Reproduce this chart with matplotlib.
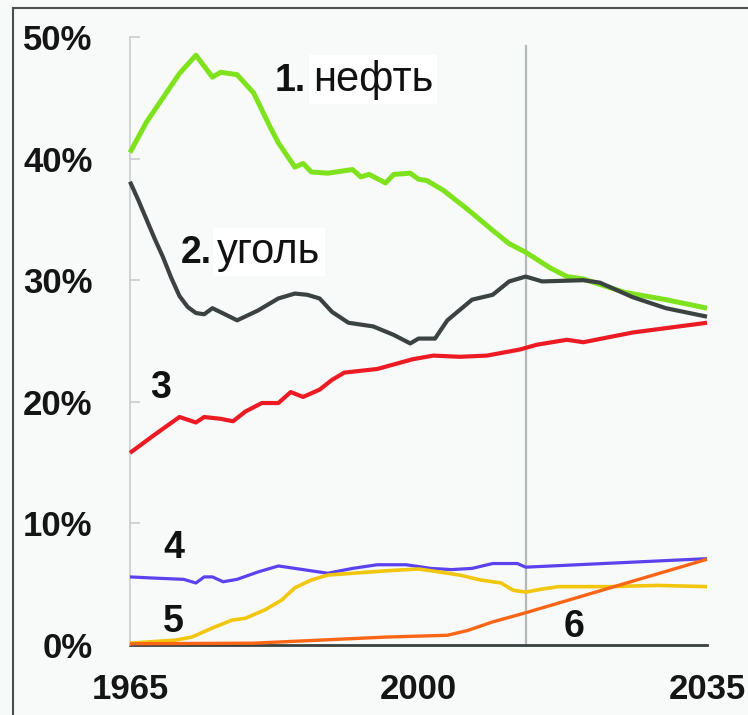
import matplotlib
matplotlib.use("Agg")
import matplotlib.pyplot as plt
from matplotlib.lines import Line2D

# ---- data (share of world primary energy, %) ----
oil_years = [1965, 1967, 1969, 1970, 1971, 1973, 1975, 1976, 1978, 1980, 1982, 1983, 1985, 1986,
             1987, 1989, 1990, 1992, 1993, 1994, 1996, 1997, 1999, 2000, 2001, 2003, 2006, 2009,
             2011, 2013, 2016, 2018, 2020, 2025, 2030, 2035]
oil_vals = [40.5, 43.0, 45.0, 46.0, 47.0, 48.5, 46.7, 47.1, 46.9, 45.4, 42.6, 41.3, 39.3, 39.6,
            38.9, 38.8, 38.9, 39.1, 38.5, 38.7, 38.0, 38.7, 38.8, 38.3, 38.2, 37.4, 35.8, 34.1,
            33.0, 32.3, 31.0, 30.3, 30.1, 29.0, 28.4, 27.7]

coal_years = [1965, 1966, 1967, 1968, 1969, 1970, 1971, 1972, 1973, 1974, 1975, 1976.5, 1978,
              1980.5, 1983, 1985, 1986.5, 1988, 1989.5, 1991.5, 1994.5, 1997, 1999, 2000, 2002,
              2003.5, 2006.5, 2009, 2011, 2013, 2015, 2020, 2022, 2026, 2030, 2035]
coal_vals = [38.1, 36.6, 35.0, 33.4, 31.9, 30.2, 28.7, 27.8, 27.3, 27.2, 27.7, 27.2, 26.7,
             27.5, 28.5, 28.9, 28.8, 28.5, 27.4, 26.5, 26.2, 25.5, 24.8, 25.2, 25.2,
             26.7, 28.4, 28.8, 29.9, 30.3, 29.9, 30.0, 29.8, 28.6, 27.7, 27.0]

gas_years = [1965, 1968, 1971, 1973, 1974, 1976, 1977.5, 1979, 1981, 1983, 1984.5, 1986, 1988,
             1989.5, 1991, 1995, 1999.3, 2001.8, 2005, 2008.3, 2012.3, 2014.4, 2018, 2020, 2026, 2035]
gas_vals = [15.8, 17.3, 18.75, 18.3, 18.75, 18.6, 18.4, 19.2, 19.9, 19.9, 20.8, 20.4, 21.0,
            21.8, 22.4, 22.7, 23.5, 23.8, 23.7, 23.8, 24.3, 24.7, 25.1, 24.9, 25.7, 26.5]

hydro_years = [1965, 1968, 1971.5, 1973, 1974, 1975, 1976.3, 1978, 1980.5, 1983, 1986, 1989, 1992,
               1995, 1998.5, 2001.5, 2004, 2006.5, 2009, 2012, 2013, 2035]
hydro_vals = [5.6, 5.5, 5.4, 5.1, 5.6, 5.6, 5.2, 5.4, 6.0, 6.5, 6.2, 5.9, 6.3,
              6.6, 6.6, 6.3, 6.2, 6.3, 6.7, 6.7, 6.4, 7.1]

nuclear_years = [1965, 1970.5, 1972.5, 1975, 1977.4, 1979, 1981.4, 1983.4, 1985, 1987, 1989, 1992,
                 1996, 2000, 2002.6, 2005, 2007.5, 2010, 2011.5, 2013, 2015, 2017, 2023, 2029, 2035]
nuclear_vals = [0.15, 0.4, 0.65, 1.4, 2.05, 2.2, 2.9, 3.7, 4.7, 5.35, 5.75, 5.9,
                6.1, 6.25, 6.0, 5.75, 5.35, 5.1, 4.5, 4.35, 4.6, 4.8, 4.8, 4.9, 4.8]

renew_years = [1965, 1980, 1988, 1996, 2003.5, 2006, 2009, 2013, 2035]
renew_vals = [0.1, 0.15, 0.4, 0.65, 0.8, 1.2, 1.9, 2.65, 7.05]

x_ticks = [1965, 2000, 2035]
x_tick_labels = ["1965", "2000", "2035"]
y_ticks = [0, 10, 20, 30, 40, 50]
y_tick_labels = ["0%", "10%", "20%", "30%", "40%", "50%"]
forecast_year = 2013

# ---- figure ----
bg = "#f8f9f9"
fig = plt.figure(figsize=(7.48, 7.15), dpi=100, facecolor=bg)
ax = fig.add_axes([130/748, 1 - 645/715, 577/748, 608/715])
ax.set_facecolor(bg)
ax.set_xlim(1965, 2035)
ax.set_ylim(0, 50)

font = "Liberation Sans"

ax.axvline(forecast_year, ymin=0, ymax=49.3/50, color="#b3b8b8", lw=1.6, zorder=1)

lines = [
    (oil_years, oil_vals, "#7ee31c", 3.6),
    (coal_years, coal_vals, "#3c4242", 3.0),
    (gas_years, gas_vals, "#ec1a22", 3.0),
    (hydro_years, hydro_vals, "#5a42ee", 2.3),
    (nuclear_years, nuclear_vals, "#f2c60c", 2.6),
    (renew_years, renew_vals, "#fb6616", 2.4),
]
for i, (xs, ys, c, lw) in enumerate(lines):
    ax.plot(xs, ys, color=c, lw=lw, solid_capstyle="butt", solid_joinstyle="round",
            zorder=3 + i, clip_on=False)

for s in ["top", "right"]:
    ax.spines[s].set_visible(False)
ax.spines["left"].set_color("#c9cdcd")
ax.spines["left"].set_linewidth(1.2)
ax.spines["bottom"].set_color("#3a3f3f")
ax.spines["bottom"].set_linewidth(2.0)
ax.spines["bottom"].set_zorder(2)

ax.set_yticks(y_ticks)
ax.set_yticklabels(y_tick_labels, fontsize=25, fontweight="bold", fontfamily=font, color="#151515")
ax.set_xticks(x_ticks)
ax.set_xticklabels(x_tick_labels, fontsize=25, fontweight="bold", fontfamily=font, color="#151515")
ax.tick_params(axis="y", direction="in", length=7, width=1.2, color="#c9cdcd", pad=27)
ax.tick_params(axis="x", length=0, pad=20)

# series labels
tkw = dict(fontfamily=font, color="#111111", va="baseline", ha="left", zorder=10)
box = dict(facecolor="white", edgecolor="none", pad=3)
ax.text(1982.6, 45.6, "1.", fontsize=27, fontweight="bold", **tkw)
ax.text(1987.2, 45.6, "нефть", fontsize=30, bbox=box, **tkw)
ax.text(1971.1, 31.4, "2.", fontsize=27, fontweight="bold", **tkw)
ax.text(1975.6, 31.4, "уголь", fontsize=30, bbox=box, **tkw)
ax.text(1967.4, 20.3, "3", fontsize=27, fontweight="bold", **tkw)
ax.text(1969.0, 7.15, "4", fontsize=27, fontweight="bold", **tkw)
ax.text(1969.0, 1.07, "5", fontsize=27, fontweight="bold", **tkw)
ax.text(2017.65, 0.66, "6", fontsize=27, fontweight="bold", **tkw)

# frame of the original picture (left and top edges)
fig.add_artist(Line2D([13/748, 13/748], [0, 1 - 8/715], transform=fig.transFigure,
                      color="#4a4f4f", lw=1.5))
fig.add_artist(Line2D([13/748, 1], [1 - 8/715, 1 - 8/715], transform=fig.transFigure,
                      color="#4a4f4f", lw=1.5))

fig.savefig("out.png", dpi=100, facecolor=bg)
